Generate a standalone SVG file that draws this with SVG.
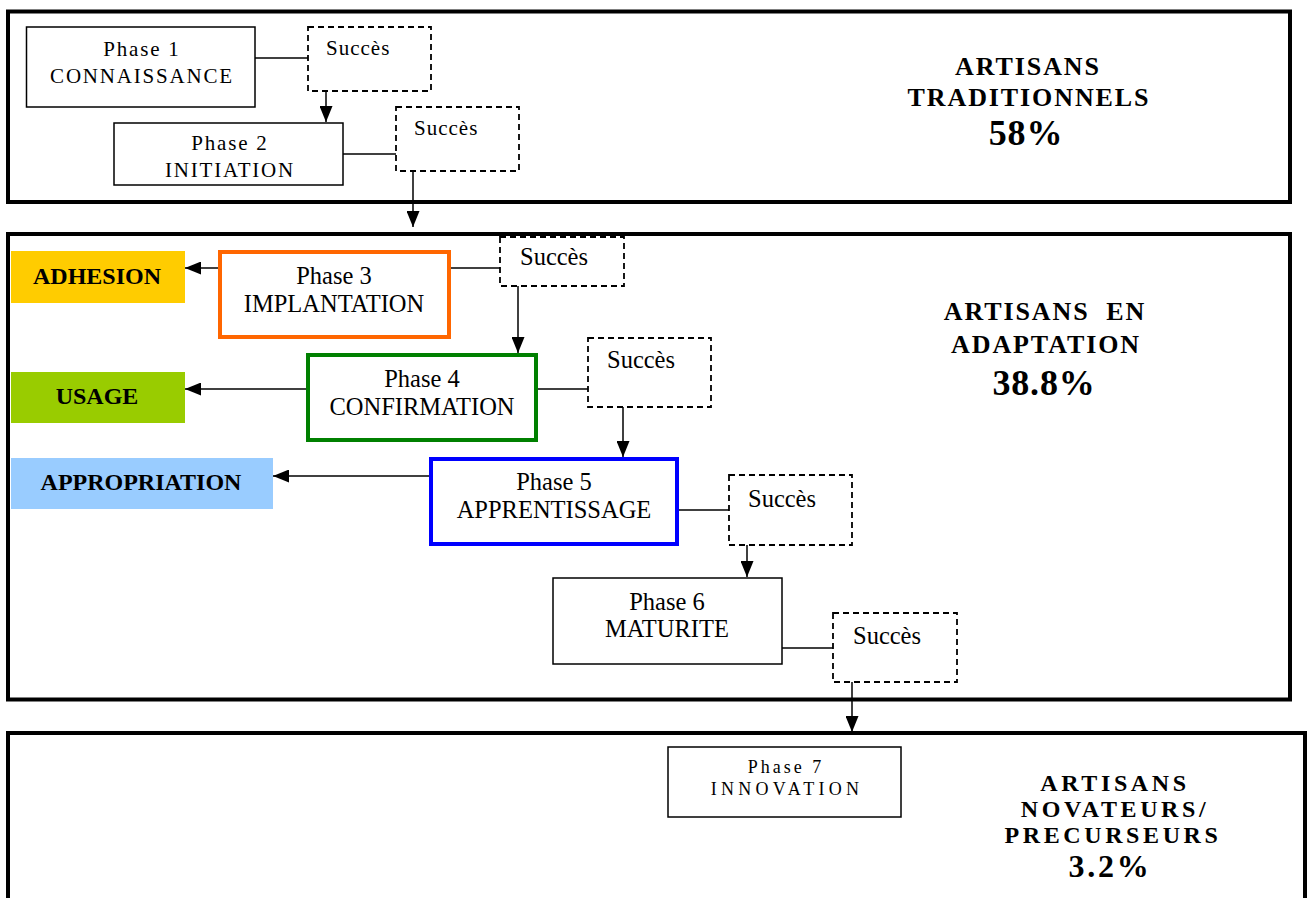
<svg xmlns="http://www.w3.org/2000/svg" width="1309" height="898" viewBox="0 0 1309 898">
<style>
.frame{fill:none;stroke:#000;stroke-width:4}
.box{fill:#fff;stroke:#000;stroke-width:1.5}
.dash{fill:#fff;stroke:#000;stroke-width:1.8;stroke-dasharray:6 4}
.t1{font-family:"Liberation Serif","Times New Roman",serif;font-size:21px;letter-spacing:1.8px;fill:#000}
.t2{font-family:"Liberation Serif","Times New Roman",serif;font-size:24.5px;fill:#000}
.t7{font-family:"Liberation Serif","Times New Roman",serif;font-size:18px;fill:#000}
.lab{font-family:"Liberation Serif","Times New Roman",serif;font-size:24px;font-weight:bold;fill:#000}
.big{font-family:"Liberation Serif","Times New Roman",serif;font-size:26px;font-weight:bold;letter-spacing:1.9px;fill:#000}
.pct{font-family:"Liberation Serif","Times New Roman",serif;font-size:36px;font-weight:bold;letter-spacing:0.8px;fill:#000}
.big3{font-family:"Liberation Serif","Times New Roman",serif;font-size:24px;font-weight:bold;letter-spacing:3.6px;fill:#000}
.pct3{font-family:"Liberation Serif","Times New Roman",serif;font-size:32px;font-weight:bold;letter-spacing:2.7px;fill:#000}
.c{text-anchor:middle}
.ln{fill:none;stroke:#000;stroke-width:1.5}
.ar{fill:none;stroke:#000;stroke-width:1.5;marker-end:url(#ah)}
</style>
<defs>
<marker id="ah" viewBox="0 0 16 13" refX="16" refY="6.5" markerWidth="16" markerHeight="13" markerUnits="userSpaceOnUse" orient="auto">
<path d="M0,0 L16,6.5 L0,13 z" fill="#000"/>
</marker>
</defs>
<rect width="1309" height="898" fill="#fff"/>

<g id="frame1">
<rect class="frame" x="8" y="11.5" width="1282" height="190.5"/>
<text class="big c" x="1028" y="75">ARTISANS</text>
<text class="big c" x="1029" y="106">TRADITIONNELS</text>
<text class="pct c" x="1026" y="145">58%</text>
</g>
<g id="frame2">
<rect class="frame" x="8" y="234" width="1282" height="465.5"/>
<text class="big c" x="1045" y="320" xml:space="preserve">ARTISANS  EN</text>
<text class="big c" x="1046" y="353">ADAPTATION</text>
<text class="pct c" x="1044" y="395">38.8%</text>
</g>
<g id="frame3">
<rect class="frame" x="8" y="733" width="1297" height="190"/>
<text class="big3 c" x="1115" y="791">ARTISANS</text>
<text class="big3 c" x="1115" y="817">NOVATEURS/</text>
<text class="big3 c" x="1113" y="843">PRECURSEURS</text>
<text class="pct3 c" x="1110" y="877">3.2%</text>
</g>

<g id="connectors">
<line class="ln" x1="255" y1="58" x2="308" y2="58"/>
<line class="ar" x1="326" y1="91" x2="326" y2="122"/>
<line class="ln" x1="343" y1="154" x2="396" y2="154"/>
<line class="ar" x1="413" y1="171" x2="413" y2="227"/>
<line class="ln" x1="450" y1="268" x2="500" y2="268"/>
<line class="ar" x1="518" y1="286" x2="518" y2="353"/>
<line class="ar" x1="218" y1="268" x2="185" y2="268"/>
<line class="ln" x1="537" y1="389" x2="588" y2="389"/>
<line class="ar" x1="623" y1="407" x2="623" y2="457"/>
<line class="ar" x1="306" y1="389" x2="185" y2="389"/>
<line class="ln" x1="677" y1="510" x2="729" y2="510"/>
<line class="ar" x1="747" y1="545" x2="747" y2="577"/>
<line class="ar" x1="430" y1="476" x2="273" y2="476"/>
<line class="ln" x1="782" y1="648" x2="833" y2="648"/>
<line class="ar" x1="852" y1="682" x2="852" y2="732"/>
</g>

<g id="phase1">
<rect class="box" x="26.5" y="27" width="228.5" height="80"/>
<text class="t1 c" x="142" y="56">Phase 1</text>
<text class="t1 c" x="142" y="83">CONNAISSANCE</text>
</g>
<g id="succes1">
<rect class="dash" x="308" y="27" width="123" height="64"/>
<text class="t1" x="326" y="55" style="letter-spacing:1px">Succès</text>
</g>
<g id="phase2">
<rect class="box" x="114" y="123" width="229" height="62"/>
<text class="t1 c" x="230" y="150">Phase 2</text>
<text class="t1 c" x="230" y="177">INITIATION</text>
</g>
<g id="succes2">
<rect class="dash" x="396" y="107" width="123" height="64"/>
<text class="t1" x="414" y="135" style="letter-spacing:1px">Succès</text>
</g>

<g id="adhesion">
<rect x="11" y="251" width="174" height="52" fill="#FFCC00"/>
<text class="lab c" x="97" y="284">ADHESION</text>
</g>
<g id="phase3">
<rect x="220" y="252" width="229" height="85" fill="#fff" stroke="#FF6600" stroke-width="4"/>
<text class="t2 c" x="334" y="284">Phase 3</text>
<text class="t2 c" x="334" y="312">IMPLANTATION</text>
</g>
<g id="succes3">
<rect class="dash" x="500" y="237" width="124" height="49"/>
<text class="t2" x="520" y="265">Succès</text>
</g>

<g id="usage">
<rect x="11" y="372" width="174" height="51" fill="#99CC00"/>
<text class="lab c" x="97" y="404">USAGE</text>
</g>
<g id="phase4">
<rect x="308" y="355" width="228" height="85" fill="#fff" stroke="#008000" stroke-width="4"/>
<text class="t2 c" x="422" y="387">Phase 4</text>
<text class="t2 c" x="422" y="415">CONFIRMATION</text>
</g>
<g id="succes4">
<rect class="dash" x="588" y="338" width="123" height="69"/>
<text class="t2" x="607" y="368">Succès</text>
</g>

<g id="appropriation">
<rect x="11" y="458" width="262" height="51" fill="#99CCFF"/>
<text class="lab c" x="141" y="490">APPROPRIATION</text>
</g>
<g id="phase5">
<rect x="431" y="459" width="246" height="85" fill="#fff" stroke="#0000FF" stroke-width="4"/>
<text class="t2 c" x="554" y="490">Phase 5</text>
<text class="t2 c" x="554" y="518">APPRENTISSAGE</text>
</g>
<g id="succes5">
<rect class="dash" x="729" y="475" width="123" height="70"/>
<text class="t2" x="748" y="507">Succès</text>
</g>

<g id="phase6">
<rect class="box" x="553" y="578" width="229" height="86"/>
<text class="t2 c" x="667" y="610">Phase 6</text>
<text class="t2 c" x="667" y="637">MATURITE</text>
</g>
<g id="succes6">
<rect class="dash" x="833" y="613" width="124" height="69"/>
<text class="t2" x="853" y="644">Succès</text>
</g>

<g id="phase7">
<rect class="box" x="668" y="747" width="233" height="70"/>
<text class="t7 c" x="786" y="773" style="letter-spacing:3px">Phase 7</text>
<text class="t7 c" x="787" y="795" style="letter-spacing:4.3px">INNOVATION</text>
</g>
</svg>
